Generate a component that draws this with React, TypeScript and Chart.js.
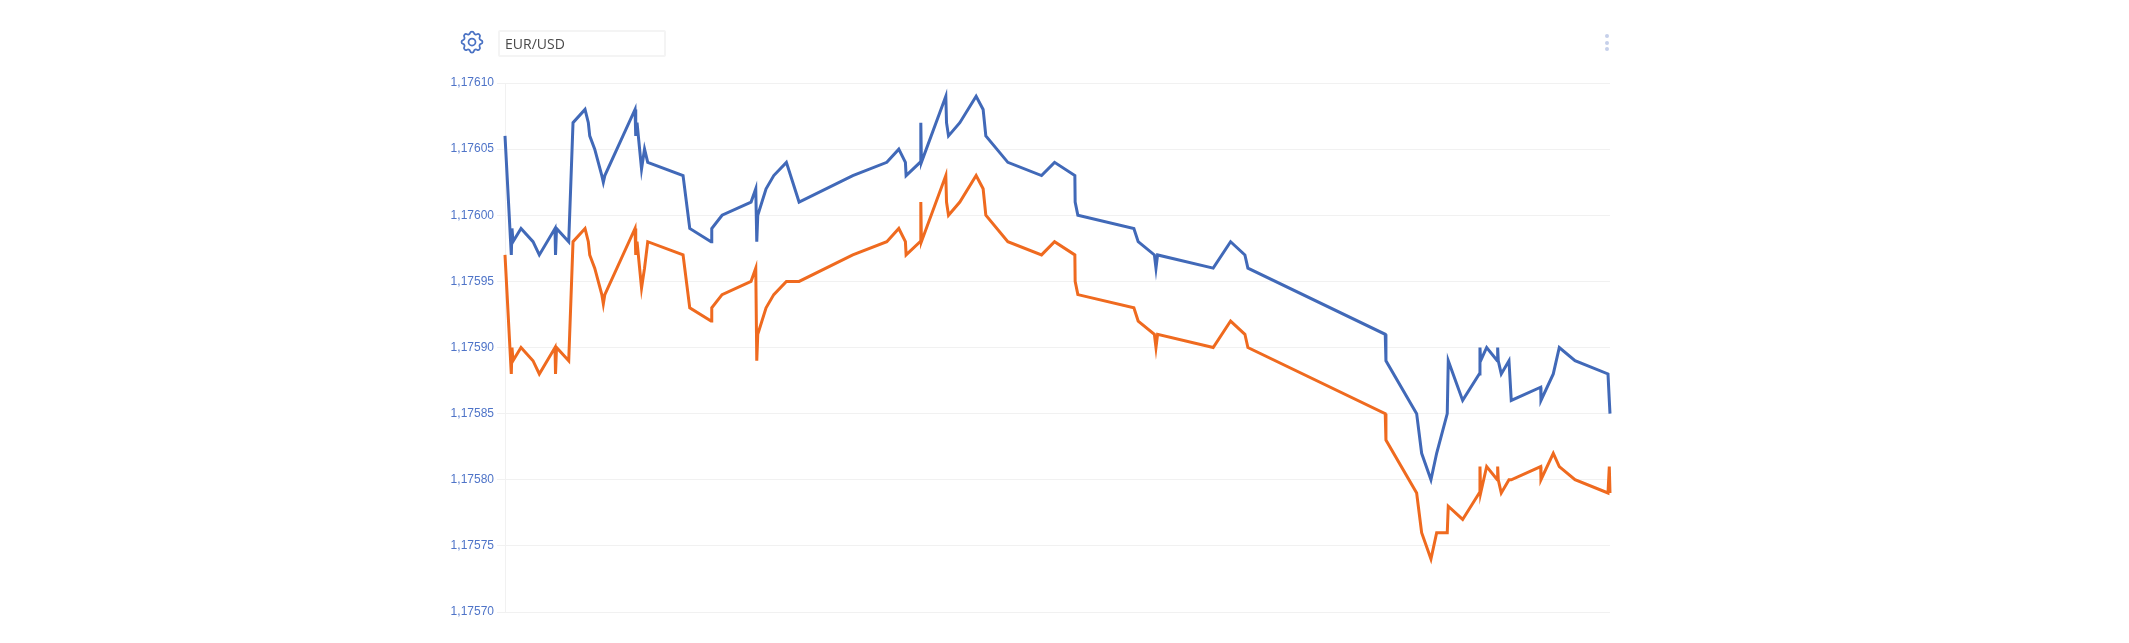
import React, { useEffect, useRef } from "react";
import { Chart, registerables } from "chart.js";

Chart.register(...registerables);

const pairLabel = "EUR/USD";

const times = [
  0, 6.3, 7, 8, 16, 28, 34.3, 50, 50.5, 51.5, 63.7, 68, 80, 83.3, 84.7, 89.7, 96.8, 98.3, 99.8, 130,
  130.7, 132, 136.5, 139.5, 142.7, 178, 184.7, 206, 206.7, 217, 246, 250.7, 251.7, 252.7, 261, 268.7,
  281.3, 294, 347.7, 381.7, 393.7, 400.3, 401, 415, 415.7, 416.3, 440.7, 441.4, 443.4, 454.7, 471,
  478, 480.7, 502.7, 536.4, 549.4, 569.7, 570, 572.7, 628.7, 633, 649.2, 650.8, 652.4, 708, 725.4, 739.7,
  742.7, 880, 880.7, 911.4, 916.4, 925.7, 931.4, 942, 943, 957.4, 974, 974.7, 975.4, 981.4, 992,
  992.4, 993, 996, 1003.7, 1006, 1035.4, 1035.7, 1048, 1054, 1069.7, 1102.7, 1104, 1104.7,
];

const bidSeries = [
  1.17606, 1.17597, 1.17599, 1.17598, 1.17599, 1.17598, 1.17597, 1.17599, 1.17597, 1.17599, 1.17598,
  1.17607, 1.17608, 1.17607, 1.17606, 1.17605, 1.17603, 1.176025, 1.17603, 1.17608, 1.17606, 1.17607,
  1.176035, 1.17605, 1.17604, 1.17603, 1.17599, 1.17598, 1.17599, 1.176, 1.17601, 1.17602, 1.17598,
  1.176, 1.17602, 1.17603, 1.17604, 1.17601, 1.17603, 1.17604, 1.17605, 1.17604, 1.17603, 1.17604,
  1.17607, 1.17604, 1.17609, 1.17607, 1.17606, 1.17607, 1.17609, 1.17608, 1.17606, 1.17604, 1.17603,
  1.17604, 1.17603, 1.17601, 1.176, 1.17599, 1.17598, 1.17597, 1.17596, 1.17597, 1.17596, 1.17598,
  1.17597, 1.17596, 1.17591, 1.17589, 1.17585, 1.17582, 1.1758, 1.17582, 1.17585, 1.17589, 1.17586,
  1.17588, 1.1759, 1.17589, 1.1759, 1.17589, 1.1759, 1.17589, 1.17588, 1.17589, 1.17586, 1.17587,
  1.17586, 1.17588, 1.1759, 1.17589, 1.17588, 1.17586, 1.17585,
];

const askSeries = [
  1.17597, 1.17588, 1.1759, 1.17589, 1.1759, 1.17589, 1.17588, 1.1759, 1.17588, 1.1759, 1.17589,
  1.17598, 1.17599, 1.17598, 1.17597, 1.17596, 1.17594, 1.175933, 1.17594, 1.17599, 1.17597, 1.17598,
  1.175945, 1.17596, 1.17598, 1.17597, 1.17593, 1.17592, 1.17593, 1.17594, 1.17595, 1.17596, 1.17589,
  1.17591, 1.17593, 1.17594, 1.17595, 1.17595, 1.17597, 1.17598, 1.17599, 1.17598, 1.17597, 1.17598,
  1.17601, 1.17598, 1.17603, 1.17601, 1.176, 1.17601, 1.17603, 1.17602, 1.176, 1.17598, 1.17597,
  1.17598, 1.17597, 1.17595, 1.17594, 1.17593, 1.17592, 1.17591, 1.1759, 1.17591, 1.1759, 1.17592,
  1.17591, 1.1759, 1.17585, 1.17583, 1.17579, 1.17576, 1.17574, 1.17576, 1.17576, 1.17578, 1.17577,
  1.17579, 1.17581, 1.17579, 1.17581, 1.1758, 1.17581, 1.1758, 1.17579, 1.1758, 1.1758, 1.17581,
  1.1758, 1.17582, 1.17581, 1.1758, 1.17579, 1.17581, 1.17579,
];

const yTicks = [1.1757, 1.17575, 1.1758, 1.17585, 1.1759, 1.17595, 1.176, 1.17605, 1.1761];

const toPoints = (values: number[]) => values.map((y, i) => ({ x: times[i], y }));

export default function App() {
  const ref = useRef<HTMLCanvasElement>(null);

  useEffect(() => {
    if (!ref.current) return;
    const chart = new Chart(ref.current, {
      type: "line",
      data: {
        datasets: [
          { label: "Bid", data: toPoints(bidSeries), borderColor: "#4169b8", borderWidth: 3, pointRadius: 0, tension: 0, fill: false, clip: false },
          { label: "Ask", data: toPoints(askSeries), borderColor: "#ef6a1f", borderWidth: 3, pointRadius: 0, tension: 0, fill: false, clip: false },
        ],
      } as any,
      options: {
        animation: false,
        responsive: false,
        layout: { padding: { left: 0, right: 519, top: 83, bottom: 31 } },
        plugins: { legend: { display: false }, tooltip: { enabled: false } },
        scales: {
          x: { type: "linear", display: false, min: times[0], max: times[times.length - 1] },
          y: {
            min: yTicks[0],
            max: yTicks[yTicks.length - 1],
            afterFit: (s: any) => { s.width = 505; s.paddingTop = 0; s.paddingBottom = 0; },
            afterBuildTicks: (s: any) => { s.ticks = yTicks.map((value) => ({ value })); },
            grid: { color: "#f1f1f1", lineWidth: 1, tickLength: 8, drawTicks: true },
            border: { color: "#f1f1f1", width: 1 },
            ticks: {
              color: "#4f74c8",
              padding: 3,
              font: { family: "'Liberation Sans'", size: 12 },
              callback: (v: any) => Number(v).toFixed(5).replace(".", ","),
            },
          },
        },
      } as any,
    });
    return () => chart.destroy();
  }, []);

  return (
    <div style={{ position: "fixed", left: 0, top: 0, width: 2129, height: 643, background: "#fff", overflow: "hidden", filter: "blur(0.4px)" }}>
      <canvas ref={ref} width={2129} height={643} style={{ position: "absolute", left: 0, top: 0, display: "block" }} />
      <svg width="28" height="28" viewBox="0 0 24 24" fill="none" stroke="#4a72c4" strokeWidth="1.5" strokeLinejoin="round" style={{ position: "absolute", left: 458, top: 28 }}>
        <path d="M10.325 4.317c.426-1.756 2.924-1.756 3.35 0a1.724 1.724 0 002.573 1.066c1.543-.94 3.31.826 2.37 2.37a1.724 1.724 0 001.065 2.572c1.756.426 1.756 2.924 0 3.35a1.724 1.724 0 00-1.066 2.573c.94 1.543-.826 3.31-2.37 2.37a1.724 1.724 0 00-2.572 1.065c-.426 1.756-2.924 1.756-3.35 0a1.724 1.724 0 00-2.573-1.066c-1.543.94-3.31-.826-2.37-2.37a1.724 1.724 0 00-1.065-2.572c-1.756-.426-1.756-2.924 0-3.35a1.724 1.724 0 001.066-2.573c-.94-1.543.826-3.31 2.37-2.37.996.608 2.296.07 2.572-1.065z" />
        <circle cx="12" cy="12" r="3" />
      </svg>
      <div style={{ position: "absolute", left: 498, top: 30, width: 168, height: 27, boxSizing: "border-box", border: "2px solid #f4f4f4", borderRadius: 2, fontFamily: "'Open Sans'", fontSize: 14, lineHeight: "24px", color: "#4a4a4a", paddingLeft: 5 }}>
        {pairLabel}
      </div>
      {[36, 42.5, 49].map((top) => (
        <div key={top} style={{ position: "absolute", left: 1604.5, top: top - 2, width: 4, height: 4, borderRadius: 2, background: "#c6d0ea" }} />
      ))}
    </div>
  );
}
